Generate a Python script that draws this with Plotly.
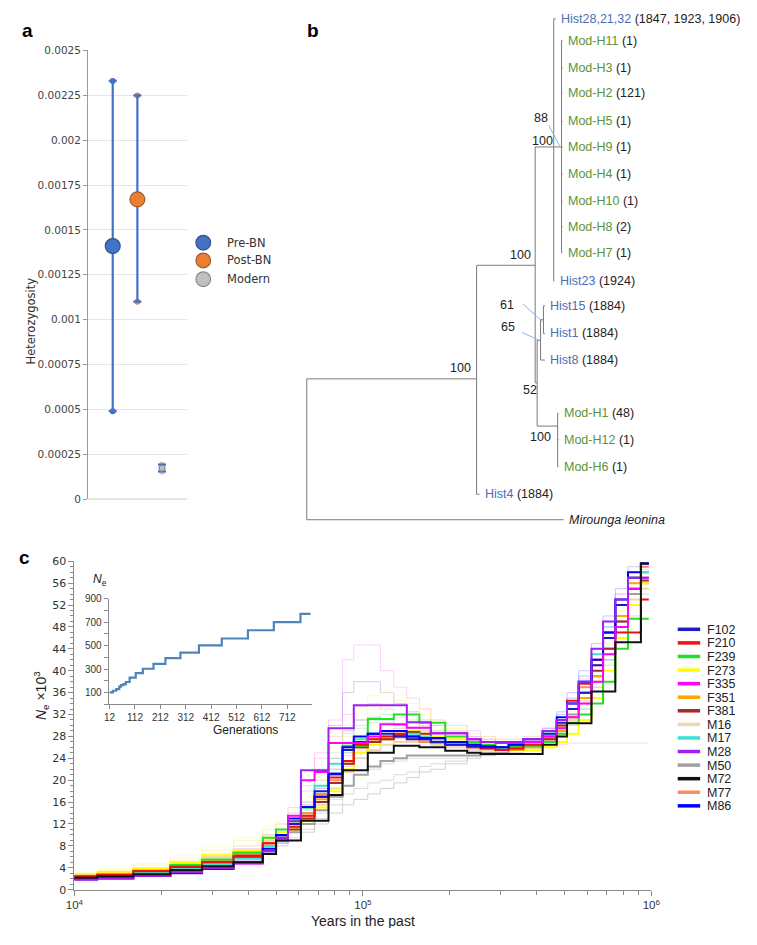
import plotly.graph_objects as go

W, H = 757, 945
def fx(p):
    return p / W
def fy(p):
    return 1 - p / H

# ---------------- Panel a data ----------------
groups = ["Pre-BN", "Post-BN", "Modern"]
het_mean = [0.00141, 0.00167, 0.000172]
het_upper = [0.00233, 0.002249, 0.000192]
het_lower = [0.00049, 0.00110, 0.000154]
group_colors = ["#4472c4", "#ed7d31", "#c0c0c0"]
group_edges = ["#2f528f", "#9c5a2e", "#8a8a8a"]
a_tickvals = [0, 0.00025, 0.0005, 0.00075, 0.001, 0.00125, 0.0015, 0.00175, 0.002, 0.00225, 0.0025]
a_ticktext = ["0", "0.00025", "0.0005", "0.00075", "0.001", "0.00125", "0.0015",
              "0.00175", "0.002", "0.00225", "0.0025"]

# ---------------- Panel b data (tree) ----------------
leaf_names = ["Hist28,21,32", "Mod-H11", "Mod-H3", "Mod-H2", "Mod-H5", "Mod-H9", "Mod-H4",
              "Mod-H10", "Mod-H8", "Mod-H7", "Hist23", "Hist15", "Hist1", "Hist8",
              "Mod-H1", "Mod-H12", "Mod-H6", "Hist4", "Mirounga leonina"]
leaf_counts = ["(1847, 1923, 1906)", "(1)", "(1)", "(121)", "(1)", "(1)", "(1)", "(1)", "(2)",
               "(1)", "(1924)", "(1884)", "(1884)", "(1884)", "(48)", "(1)", "(1)", "(1884)", ""]
leaf_type = ["hist", "mod", "mod", "mod", "mod", "mod", "mod", "mod", "mod", "mod", "hist",
             "hist", "hist", "hist", "mod", "mod", "mod", "hist", "out"]
leaf_rows = [0, 0.82, 1.85, 2.8, 3.87, 4.83, 5.84, 6.88, 7.84, 8.81, 9.89, 10.82, 11.86,
             12.86, 14.87, 15.87, 16.88, 17.92, 18.88]
leaf_depth = [255, 262, 262, 262, 262, 262, 262, 262, 262, 262, 253.5, 244, 244, 244,
              258, 258, 258, 177, 263]
# internal nodes: name -> (depth, connecting row, children)
nodes = {
    "D": (261, 4.83, ["Mod-H11", "Mod-H3", "Mod-H2", "Mod-H5", "Mod-H9", "Mod-H4", "Mod-H10", "Mod-H8", "Mod-H7"]),
    "C": (253, 4.83, ["Hist28,21,32", "D", "Hist23"]),
    "F": (242.5, 11.34, ["Hist15", "Hist1"]),
    "E": (239.5, 12.12, ["F", "Hist8"]),
    "H": (257, 15.35, ["Mod-H1", "Mod-H12", "Mod-H6"]),
    "G": (236, 13.72, ["E", "H"]),
    "B": (234, 9.29, ["C", "G"]),
    "A": (174, 13.57, ["B", "Hist4"]),
    "R": (0, 16.0, ["A", "Mirounga leonina"]),
}
support = [("D", "88", -20.5, -29), ("C", "100", -11, -6), ("B", "100", -15, -10),
           ("A", "100", -16, -11), ("F", "61", -36, -15), ("E", "65", -33, -13),
           ("G", "52", -7, 7), ("H", "100", -17, 11)]
leaders = [("D", -13, -22, -2, -1), ("F", -21, -16, -1, 2), ("E", -19, -8, -1, 0)]

# ---------------- Panel c data ----------------
years = [8000, 12000, 16000, 21500, 27700, 35600, 45000, 50000, 55000, 61000, 68000, 76000,
         85000, 93000, 104000, 115000, 128000, 142000, 157000, 172000, 193000, 230000, 256000,
         288000, 320000, 360000, 420000, 470000, 510000, 560000, 620000, 680000, 750000,
         830000, 920000, 980000]
ind_names = ["F102", "F210", "F239", "F273", "F335", "F351", "F381", "M16", "M17", "M28",
             "M50", "M72", "M77", "M86"]
ind_colors = ["#1c1cc0", "#ee1111", "#22e022", "#ffff00", "#ff00ff", "#ffa500", "#a52a2a",
              "#eed8b4", "#40e0d0", "#a020f0", "#a0a0a0", "#111111", "#ff8c60", "#0000ff"]
F102 = [1.9, 2.1, 2.5, 3.0, 3.8, 5.0, 7.0, 9.5, 12.0, 15.1, 18.0, 21.2, 25.5, 27.0, 28.5, 28.5, 28.0, 27.5, 27.5, 27.0, 26.5, 26.2, 26.0, 26.0, 26.5, 27.0, 28.5, 30.5, 33.0, 36.0, 41.0, 46.0, 52.0, 57.0, 59.6, 59.6]
F210 = [2.4, 2.7, 3.4, 4.2, 5.0, 6.0, 8.5, 10.0, 11.5, 13.5, 17.0, 20.5, 23.5, 26.5, 27.5, 28.0, 28.2, 28.0, 27.5, 27.0, 26.5, 26.0, 25.8, 25.5, 25.8, 26.5, 28.0, 31.0, 34.5, 37.6, 42.0, 47.0, 47.0, 47.0, 53.0, 53.0]
F239 = [2.3, 2.8, 3.4, 4.5, 5.5, 6.8, 9.5, 11.0, 12.5, 15.0, 17.0, 21.0, 26.3, 26.3, 31.2, 31.2, 32.0, 32.0, 30.5, 30.5, 28.0, 27.0, 26.5, 26.0, 26.0, 26.3, 27.0, 28.5, 30.5, 32.0, 34.0, 38.0, 44.0, 49.5, 49.5, 49.5]
F273 = [2.6, 3.0, 3.8, 5.0, 6.3, 7.2, 9.5, 10.5, 11.0, 12.5, 15.0, 18.0, 22.0, 25.0, 26.5, 27.5, 28.5, 29.0, 28.5, 28.0, 27.5, 27.0, 26.5, 26.0, 25.5, 25.5, 26.0, 27.0, 28.5, 31.0, 35.0, 40.0, 46.0, 52.0, 56.0, 56.0]
F335 = [2.0, 2.2, 2.7, 3.3, 4.0, 4.8, 6.5, 9.0, 13.5, 20.0, 21.5, 26.8, 26.8, 26.8, 28.0, 30.2, 30.2, 29.6, 29.6, 28.6, 28.6, 27.5, 27.0, 26.8, 26.8, 27.0, 28.0, 29.5, 31.5, 34.0, 38.0, 43.0, 48.0, 55.0, 57.0, 57.0]
F351 = [2.5, 2.8, 3.5, 4.4, 5.4, 6.6, 8.5, 10.0, 11.5, 13.5, 16.5, 19.5, 23.0, 26.0, 27.5, 28.0, 28.2, 28.0, 27.5, 27.0, 26.5, 26.0, 26.0, 25.5, 25.5, 26.0, 27.0, 29.0, 31.5, 35.0, 39.0, 44.0, 50.0, 56.0, 58.0, 58.0]
F381 = [2.4, 2.6, 3.2, 4.0, 5.0, 6.2, 8.0, 9.5, 11.0, 13.0, 16.0, 19.5, 23.0, 26.0, 27.0, 27.5, 28.5, 28.8, 28.5, 27.5, 27.0, 26.5, 26.0, 26.0, 26.0, 26.5, 27.5, 30.0, 33.0, 36.0, 40.0, 44.0, 49.0, 55.0, 56.5, 56.5]
M16 = [2.6, 2.9, 3.5, 4.5, 5.5, 7.0, 9.0, 10.0, 11.5, 13.0, 15.5, 18.5, 21.5, 24.0, 25.5, 26.5, 27.0, 27.0, 27.0, 26.5, 26.0, 26.0, 25.5, 25.5, 25.5, 26.0, 27.0, 28.5, 31.0, 34.0, 38.0, 43.0, 48.0, 53.0, 55.0, 55.0]
M17 = [2.2, 2.5, 3.0, 3.8, 4.7, 5.8, 8.0, 10.0, 12.5, 15.0, 19.0, 23.0, 26.0, 27.5, 28.5, 29.0, 29.0, 28.5, 28.0, 27.5, 27.0, 26.5, 26.0, 26.0, 26.5, 27.0, 28.5, 31.0, 34.0, 38.0, 43.0, 47.0, 52.0, 57.0, 58.0, 58.0]
M28 = [1.8, 2.0, 2.5, 3.2, 4.0, 5.0, 7.0, 9.5, 12.5, 21.8, 21.8, 29.5, 29.5, 33.7, 33.7, 33.7, 33.7, 30.6, 30.6, 28.6, 28.6, 27.5, 27.0, 27.0, 27.0, 27.5, 29.0, 31.0, 34.0, 38.0, 44.0, 49.0, 53.0, 57.0, 57.0, 57.0]
M50 = [2.5, 2.8, 3.3, 4.0, 5.0, 6.0, 8.0, 9.0, 10.5, 12.0, 14.5, 17.0, 19.0, 21.0, 22.5, 23.5, 24.0, 24.5, 24.5, 24.5, 24.5, 24.5, 25.0, 25.0, 25.5, 26.0, 27.5, 29.5, 32.0, 35.0, 39.0, 44.0, 49.0, 54.0, 56.0, 56.0]
M72 = [2.2, 2.4, 2.8, 3.6, 4.3, 5.0, 6.5, 9.0, 9.0, 12.6, 12.6, 17.3, 21.8, 21.8, 25.0, 25.0, 26.3, 26.3, 26.0, 26.0, 25.4, 25.0, 24.8, 24.8, 24.8, 24.8, 26.5, 28.0, 30.4, 30.4, 36.2, 36.2, 45.2, 45.2, 59.6, 59.6]
M77 = [2.5, 2.7, 3.3, 4.2, 5.2, 6.4, 8.5, 10.0, 12.0, 14.0, 17.5, 20.0, 23.5, 26.0, 27.0, 27.5, 27.8, 27.5, 27.0, 26.8, 26.5, 26.0, 25.8, 25.5, 25.8, 26.3, 27.5, 30.0, 33.0, 37.0, 41.0, 46.0, 52.0, 57.0, 59.0, 59.0]
M86 = [2.0, 2.2, 2.6, 3.1, 3.9, 4.9, 7.5, 10.0, 13.0, 15.1, 17.0, 21.2, 26.0, 28.0, 28.5, 29.0, 29.0, 28.0, 27.7, 27.7, 27.0, 26.5, 26.2, 26.0, 26.5, 27.5, 29.0, 31.5, 34.0, 38.0, 42.0, 47.0, 53.0, 58.0, 59.6, 59.6]
ind_values = [F102, F210, F239, F273, F335, F351, F381, M16, M17, M28, M50, M72, M77, M86]

# faint bootstrap replicates
boot_colors = ["#ff88ff", "#ffee55", "#909090", "#a8a8a8", "#66ee66", "#b070ff", "#ff7777",
               "#55dddd", "#ee99ee", "#ffb050", "#7777ff", "#b0b0b0", "#ffff66", "#ff99cc",
               "#cc99ff", "#99dd99"]
boot_values = [
    [2.8, 3.2, 3.8, 4.8, 6.0, 7.5, 10.0, 12.0, 15.0, 19.0, 25.0, 31.0, 42.0, 44.7, 44.7, 40.0, 37.0, 35.0, 33.0, 31.0, 30.0, 29.0, 28.0, 27.5, 27.5, 28.0, 29.5, 32.0, 35.0, 39.0, 44.0, 49.0, 54.0, 58.0, 58.0, 58.0],
    [3.0, 3.5, 4.5, 5.8, 7.2, 9.0, 11.0, 12.0, 13.5, 16.0, 20.0, 24.0, 28.0, 31.0, 33.0, 34.0, 34.5, 34.0, 33.0, 31.0, 29.5, 28.5, 27.5, 27.0, 27.0, 27.5, 28.5, 30.0, 32.5, 36.0, 40.0, 45.0, 50.0, 55.0, 57.0, 57.0],
    [2.2, 2.5, 3.0, 3.6, 4.5, 5.5, 7.0, 8.0, 9.0, 10.5, 12.0, 14.0, 15.5, 16.5, 17.5, 18.5, 19.5, 20.5, 21.5, 22.0, 23.0, 24.0, 24.5, 25.0, 25.5, 26.0, 27.5, 29.0, 31.5, 34.0, 38.0, 42.0, 47.0, 52.0, 54.0, 54.0],
    [2.4, 2.7, 3.2, 3.9, 4.8, 5.9, 7.5, 8.5, 9.5, 11.0, 13.0, 15.5, 17.5, 18.5, 19.5, 20.0, 21.0, 21.5, 22.5, 23.0, 23.5, 24.5, 25.0, 25.5, 26.0, 26.5, 27.0, 28.5, 30.5, 33.0, 37.0, 41.0, 46.0, 50.0, 53.0, 53.0],
    [2.6, 3.0, 3.6, 4.6, 5.8, 7.0, 9.0, 10.5, 12.5, 15.0, 19.0, 23.0, 27.0, 29.5, 31.0, 32.0, 32.0, 31.0, 30.0, 29.0, 28.0, 27.0, 26.5, 26.0, 26.0, 26.5, 27.5, 29.0, 31.0, 34.0, 38.0, 42.0, 47.0, 52.0, 55.0, 55.0],
    [2.0, 2.3, 2.8, 3.5, 4.4, 5.4, 7.2, 9.0, 11.5, 16.0, 22.0, 30.0, 36.0, 38.0, 38.0, 36.0, 34.0, 32.5, 31.0, 30.0, 29.0, 28.0, 27.5, 27.0, 27.0, 27.5, 29.0, 31.0, 34.0, 38.0, 43.0, 48.0, 53.0, 57.0, 58.0, 58.0],
    [2.7, 3.1, 3.9, 4.9, 6.0, 7.3, 9.5, 11.0, 13.0, 15.5, 19.0, 22.0, 25.0, 27.0, 28.5, 29.0, 29.5, 29.5, 29.0, 28.5, 27.5, 26.5, 26.0, 25.5, 25.5, 26.0, 27.0, 28.5, 31.0, 34.5, 39.0, 44.0, 50.0, 55.0, 57.0, 57.0],
    [2.1, 2.4, 2.9, 3.6, 4.5, 5.6, 7.8, 9.8, 12.0, 14.5, 18.0, 22.0, 25.0, 27.0, 28.0, 28.5, 28.0, 27.5, 27.0, 26.5, 26.0, 25.5, 25.5, 25.5, 26.0, 27.0, 29.0, 32.0, 35.0, 39.0, 44.0, 48.0, 53.0, 57.0, 59.0, 59.0],
    [2.3, 2.6, 3.1, 3.9, 4.9, 6.0, 8.0, 9.5, 11.0, 13.5, 17.0, 21.0, 24.5, 26.5, 27.5, 28.0, 28.0, 27.5, 27.0, 26.5, 26.0, 25.5, 25.5, 25.0, 25.0, 25.5, 26.0, 26.5, 26.8, 26.8, 26.8, 26.8, 26.8, 26.8, 26.8, 26.8],
    [2.9, 3.3, 4.0, 5.2, 6.5, 8.0, 10.0, 11.0, 12.0, 14.0, 17.0, 20.0, 23.0, 25.5, 27.0, 28.0, 29.0, 29.5, 29.5, 29.0, 28.0, 27.0, 26.5, 26.0, 26.0, 26.5, 28.0, 30.0, 33.0, 37.0, 42.0, 47.0, 52.0, 57.0, 58.5, 58.5],
    [1.8, 2.0, 2.4, 3.0, 3.7, 4.6, 6.5, 8.5, 11.0, 14.0, 18.5, 24.0, 29.0, 31.0, 31.5, 31.0, 30.0, 29.0, 28.5, 28.0, 27.0, 26.5, 26.0, 26.0, 26.5, 27.5, 29.5, 32.5, 36.0, 40.0, 45.0, 50.0, 55.0, 59.0, 59.0, 59.0],
    [2.5, 2.8, 3.4, 4.3, 5.3, 6.4, 8.3, 9.5, 10.5, 12.0, 14.0, 16.5, 19.0, 21.0, 22.0, 23.0, 23.5, 24.0, 24.0, 24.0, 24.0, 24.5, 24.5, 25.0, 25.0, 25.5, 26.5, 28.0, 30.0, 33.0, 37.0, 42.0, 47.0, 52.0, 55.0, 55.0],
    [3.2, 3.8, 4.8, 6.2, 7.8, 9.5, 11.5, 12.5, 14.0, 17.0, 21.0, 26.0, 30.0, 33.0, 35.5, 36.0, 35.5, 34.0, 32.0, 30.5, 29.5, 28.5, 28.0, 27.5, 27.5, 28.0, 29.0, 30.5, 33.0, 37.0, 41.0, 46.0, 51.0, 55.0, 57.0, 57.0],
    [2.2, 2.5, 3.0, 3.8, 4.8, 6.2, 8.5, 11.0, 14.0, 18.0, 24.0, 28.0, 32.0, 33.5, 34.0, 33.0, 31.5, 30.5, 29.5, 28.5, 28.0, 27.0, 26.5, 26.0, 26.0, 26.5, 27.5, 29.5, 32.0, 36.0, 40.0, 46.0, 52.0, 56.0, 58.0, 58.0],
    [2.0, 2.2, 2.7, 3.4, 4.3, 5.3, 7.0, 8.5, 10.5, 13.0, 16.0, 19.5, 22.5, 25.0, 26.5, 27.5, 28.0, 28.0, 27.5, 27.0, 26.5, 26.0, 25.8, 25.5, 25.8, 26.5, 28.0, 31.0, 34.0, 38.5, 43.0, 48.0, 54.0, 58.0, 59.0, 59.0],
    [2.6, 2.9, 3.5, 4.4, 5.5, 6.8, 8.8, 10.5, 12.5, 15.5, 20.0, 25.0, 28.5, 30.0, 30.5, 30.5, 30.0, 29.5, 29.0, 28.5, 27.5, 27.0, 26.5, 26.0, 26.0, 26.5, 27.5, 29.0, 31.5, 35.0, 39.0, 44.0, 49.0, 54.0, 56.0, 56.0],
]
c_yticks = list(range(0, 61, 4))
c_xticks = [1e4, 1e5, 1e6]
c_xticktext = ["10<sup>4</sup>", "10<sup>5</sup>", "10<sup>6</sup>"]
c_xminor = [2e4, 3e4, 4e4, 5e4, 6e4, 7e4, 8e4, 9e4, 2e5, 3e5, 4e5, 5e5, 6e5, 7e5, 8e5, 9e5]

# inset
gens = [12, 25, 38, 50, 57, 67, 76, 91, 115, 143, 185, 232, 291, 364, 454, 557, 659, 764, 804]
gen_ne = [101, 115, 129, 150, 163, 172, 190, 227, 266, 303, 345, 393, 440, 502, 561, 631, 701, 771, 771]
inset_xticks = [12, 112, 212, 312, 412, 512, 612, 712]
inset_yticks = [100, 300, 500, 700, 900]
inset_yminor = [0, 200, 400, 600, 800]

FONT = "Liberation Sans"
TICKFONT_A = dict(family="DejaVu Sans", size=10.5, color="#444")

fig = go.Figure()

# ---------- panel a traces ----------
cap_x, cap_y, cap_c = [], [], []
for i in range(3):
    cap_x += [i, i]
    cap_y += [het_upper[i], het_lower[i]]
    cap_c += [group_colors[i], group_colors[i]]
fig.add_trace(go.Scatter(x=cap_x, y=cap_y, mode="markers", xaxis="x", yaxis="y",
                         marker=dict(size=6, color=cap_c), showlegend=False, hoverinfo="skip"))
fig.add_trace(go.Scatter(
    x=[0, 1, 2], y=het_mean, mode="markers", xaxis="x", yaxis="y", showlegend=False,
    error_y=dict(type="data", symmetric=False,
                 array=[u - m for u, m in zip(het_upper, het_mean)],
                 arrayminus=[m - l for m, l in zip(het_mean, het_lower)],
                 color="#4472c4", thickness=2.2, width=4),
    marker=dict(size=2, color="#4472c4", opacity=0), hoverinfo="skip"))
fig.add_trace(go.Scatter(
    x=[0, 1, 2], y=het_mean, mode="markers", xaxis="x", yaxis="y", showlegend=False,
    marker=dict(size=[15, 15, 6], color=group_colors, opacity=1,
                line=dict(color=group_edges, width=1.2))))

# ---------- panel b tree ----------
pos = {}
for n, d, r in zip(leaf_names, leaf_depth, leaf_rows):
    pos[n] = (d, r)
for n, (d, r, ch) in nodes.items():
    pos[n] = (d, r)
tx, ty = [], []
for n, (d, r, ch) in nodes.items():
    rows = [pos[c][1] for c in ch]
    tx += [d, d, None]
    ty += [min(rows), max(rows), None]
    for c in ch:
        tx += [d, pos[c][0], None]
        ty += [pos[c][1], pos[c][1], None]
fig.add_trace(go.Scatter(x=tx, y=ty, mode="lines", xaxis="x2", yaxis="y2",
                         line=dict(color="#7a7a7a", width=1), showlegend=False, hoverinfo="skip"))
ROWPX = 26.9
lx, ly = [], []
for n, x0, y0, x1, y1 in leaders:
    d, r = pos[n]
    lx += [d + x0, d + x1, None]
    ly += [r + y0 / ROWPX, r + y1 / ROWPX, None]
fig.add_trace(go.Scatter(x=lx, y=ly, mode="lines", xaxis="x2", yaxis="y2",
                         line=dict(color="#8fb2e6", width=1), showlegend=False, hoverinfo="skip"))

# ---------- panel c traces ----------
for col, vals in zip(boot_colors, boot_values):
    fig.add_trace(go.Scatter(x=years, y=vals, mode="lines", line_shape="hv", xaxis="x3", yaxis="y3",
                             line=dict(color=col, width=1), opacity=0.4, showlegend=False,
                             hoverinfo="skip"))
draw_order = [10, 7, 3, 5, 12, 6, 8, 2, 1, 0, 13, 4, 9, 11]
for i in draw_order:
    fig.add_trace(go.Scatter(x=years, y=ind_values[i], mode="lines", line_shape="hv",
                             xaxis="x3", yaxis="y3", name=ind_names[i],
                             line=dict(color=ind_colors[i], width=2), showlegend=False))
fig.add_trace(go.Scatter(x=gens, y=gen_ne, mode="lines", line_shape="hv", xaxis="x4", yaxis="y4",
                         line=dict(color="#4f84ba", width=2.2), showlegend=False))

shapes = []
annots = []

# panel a legend
for i, g in enumerate(groups):
    cy = [240, 258, 277][i]
    shapes.append(dict(type="circle", xref="paper", yref="paper",
                       x0=fx(191.5), x1=fx(206.5), y0=fy(cy + 7.5), y1=fy(cy - 7.5),
                       fillcolor=group_colors[i], line=dict(color=group_edges[i], width=1.2)))
    annots.append(dict(text=g, x=fx(221), y=fy(cy), xref="paper", yref="paper",
                       xanchor="left", yanchor="middle", showarrow=False,
                       font=dict(family="DejaVu Sans", size=11.5, color="#333")))
annots.append(dict(text="Heterozygosity", x=fx(13), y=fy(273), xref="paper", yref="paper",
                   textangle=-90, showarrow=False, font=dict(family="DejaVu Sans", size=11.5, color="#333")))

# tree labels
tcol = {"hist": "#4a6fb5", "mod": "#5b9437", "out": "#111"}
for n, c, t, d, r in zip(leaf_names, leaf_counts, leaf_type, leaf_depth, leaf_rows):
    if t == "out":
        txt = "<i>" + n + "</i>"
    else:
        txt = '<span style="color:%s">%s</span> %s' % (tcol[t], n, c)
    annots.append(dict(text=txt, x=d, y=r, xref="x2", yref="y2", xanchor="left", yanchor="middle",
                       xshift=3.5, showarrow=False, font=dict(family=FONT, size=12.5, color="#222")))
for n, s, dx, dy in support:
    d, r = pos[n]
    annots.append(dict(text=s, x=d, y=r, xref="x2", yref="y2", xshift=dx, yshift=-dy,
                       xanchor="center", yanchor="middle", showarrow=False,
                       font=dict(family=FONT, size=12.5, color="#222")))

# panel c legend
for i, (n, col) in enumerate(zip(ind_names, ind_colors)):
    cy = 632 + i * 13.77
    shapes.append(dict(type="line", xref="paper", yref="paper", x0=fx(685), x1=fx(708),
                       y0=fy(cy), y1=fy(cy), line=dict(color=col, width=3.5)))
    annots.append(dict(text=n, x=fx(713), y=fy(cy), xref="paper", yref="paper", xanchor="left",
                       yanchor="middle", showarrow=False, height=13,
                       font=dict(family=FONT, size=12.5, color="#222")))

annots.append(dict(text="<i>N</i><sub>e</sub> ×10<sup>3</sup>", x=fx(20), y=fy(726), xref="paper",
                   yref="paper", textangle=-90, showarrow=False, font=dict(family=FONT, size=14, color="#222")))
annots.append(dict(text="Years in the past", x=fx(363), y=fy(937), xref="paper", yref="paper",
                   showarrow=False, height=15, font=dict(family=FONT, size=14, color="#222")))
annots.append(dict(text="<i>N</i><sub>e</sub>", x=fx(84), y=fy(582), xref="paper", yref="paper",
                   showarrow=False, font=dict(family=FONT, size=12, color="#222")))
annots.append(dict(text="Generations", x=fx(207), y=fy(743), xref="paper", yref="paper",
                   showarrow=False, font=dict(family=FONT, size=12, color="#222")))
for lab, x, y in [("a", 11, 12), ("b", 311, 12), ("c", 8, 559)]:
    annots.append(dict(text="<b>%s</b>" % lab, x=fx(x), y=fy(y), xref="paper", yref="paper",
                       showarrow=False, font=dict(family=FONT, size=19, color="#000")))

axis_line = "#8a8a8a"
fig.update_layout(
    width=W, height=H, margin=dict(l=0, r=0, t=0, b=0),
    paper_bgcolor="white", plot_bgcolor="white", showlegend=False,
    font=dict(family=FONT, color="#222"),
    xaxis=dict(domain=[fx(81), fx(182)], range=[-1, 3], visible=False),
    yaxis=dict(domain=[fy(500), fy(45)], range=[0, 0.0025], tickvals=a_tickvals, ticktext=a_ticktext,
               showgrid=True, gridcolor="#e6e6e6", zeroline=True, zerolinecolor="#e6e6e6",
               showline=True, linecolor="#9a9a9a", ticks="outside", ticklen=4, tickcolor="#9a9a9a",
               tickfont=TICKFONT_A),
    xaxis2=dict(domain=[fx(300), 1], range=[-5, 452], visible=False),
    yaxis2=dict(domain=[fy(540), 1], range=[19.59, -0.483], visible=False),
    xaxis3=dict(domain=[fx(67), fx(658)], type="log", range=[4, 6], tickvals=c_xticks,
                ticktext=c_xticktext, showline=True, linecolor=axis_line, ticks="outside",
                ticklen=5, tickcolor=axis_line, showgrid=False, zeroline=False,
                minor=dict(tickvals=c_xminor, ticks="outside", ticklen=4, tickcolor=axis_line),
                tickfont=dict(family=FONT, size=11.5, color="#333"), anchor="y3"),
    yaxis3=dict(domain=[fy(896), fy(563)], range=[0, 60], tickvals=c_yticks, showline=True,
                linecolor=axis_line, ticks="outside", ticklen=5, tickcolor=axis_line,
                showgrid=False, zeroline=False,
                minor=dict(dtick=1, ticks="outside", ticklen=3, tickcolor=axis_line),
                tickfont=dict(family="DejaVu Sans", size=11, color="#333"), anchor="x3"),
    xaxis4=dict(domain=[fx(102), fx(310)], range=[8, 808], tickvals=inset_xticks, showline=True,
                linecolor=axis_line, ticks="outside", ticklen=4, tickcolor=axis_line,
                showgrid=False, zeroline=False, tickfont=dict(family=FONT, size=10, color="#333"),
                anchor="y4"),
    yaxis4=dict(domain=[fy(708), fy(601)], range=[0, 900], tickvals=inset_yticks, showline=True,
                linecolor=axis_line, ticks="outside", ticklen=4, tickcolor=axis_line,
                showgrid=False, zeroline=False,
                minor=dict(tickvals=inset_yminor, ticks="outside", ticklen=4, tickcolor=axis_line),
                tickfont=dict(family=FONT, size=10, color="#333"), anchor="x4"),
    shapes=shapes, annotations=annots,
)

fig.write_html("out.html", config={"displayModeBar": False},
               post_script="document.body.style.margin='0px';document.body.style.overflow='hidden';")
